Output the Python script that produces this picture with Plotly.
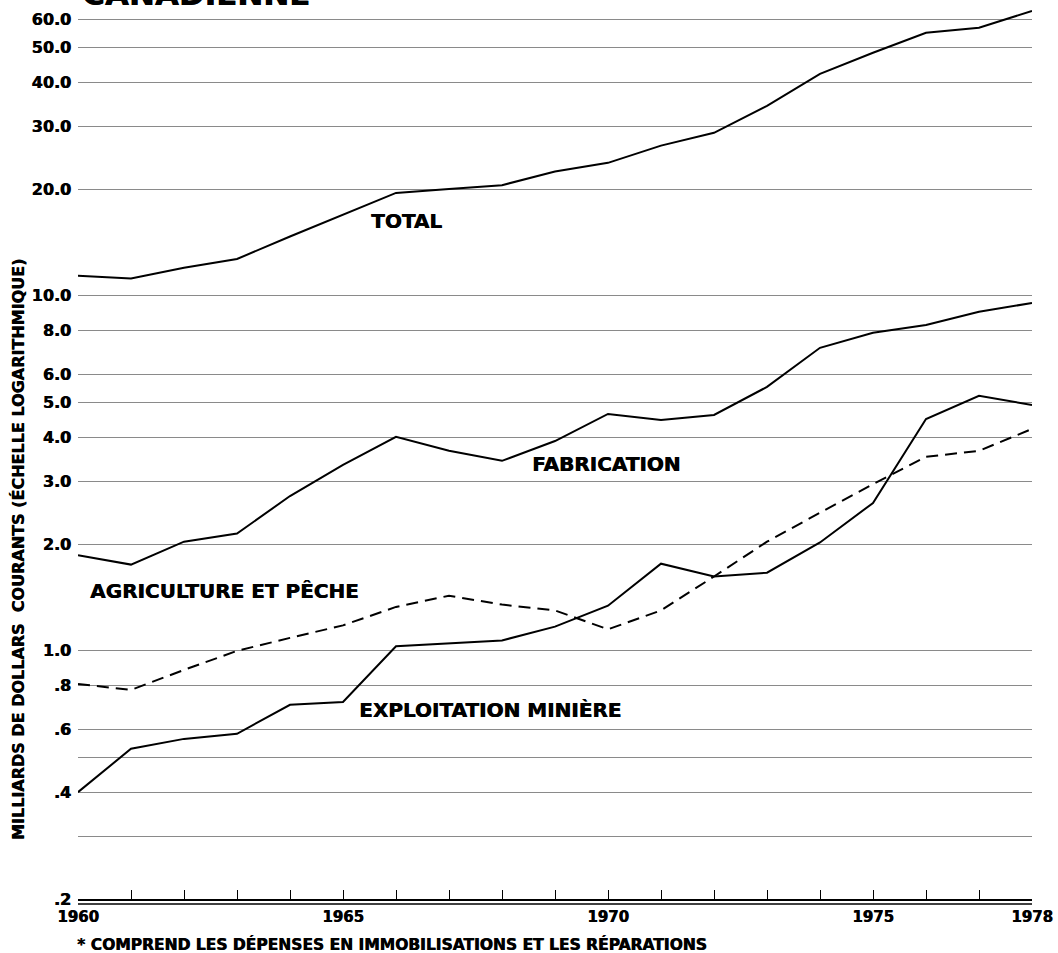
import plotly.graph_objects as go
import math

# ---- data ----
years = list(range(1960, 1979))
total = [11.4, 11.2, 12.0, 12.7, 14.7, 16.9, 19.5, 20.0, 20.5, 22.4,
         23.7, 26.5, 28.8, 34.3, 42.2, 48.4, 55.1, 56.9, 63.5]
fabrication = [1.86, 1.75, 2.03, 2.14, 2.73, 3.34, 4.01, 3.66, 3.43, 3.90,
               4.65, 4.47, 4.62, 5.54, 7.14, 7.87, 8.28, 9.02, 9.55]
agriculture = [0.807, 0.776, 0.884, 1.0, 1.088, 1.18, 1.33, 1.43, 1.35, 1.30,
               1.15, 1.30, 1.62, 2.03, 2.45, 2.95, 3.52, 3.66, 4.22]
mining = [0.40, 0.53, 0.565, 0.584, 0.705, 0.718, 1.03, 1.05, 1.07, 1.17,
          1.34, 1.76, 1.62, 1.66, 2.02, 2.61, 4.50, 5.23, 4.93]

y_tickvals = [60, 50, 40, 30, 20, 10, 8, 6, 5, 4, 3, 2, 1, 0.8, 0.6, 0.5, 0.4, 0.3, 0.2]
y_ticktext = ["60.0", "50.0", "40.0", "30.0", "20.0", "10.0", "8.0", "6.0", "5.0",
              "4.0", "3.0", "2.0", "1.0", ".8", ".6", "", ".4", "", ".2"]
x_tickvals = years
x_ticktext = [str(y) if y in (1960, 1965, 1970, 1975, 1978) else "" for y in years]

series_labels = [
    ("TOTAL", 1966.2, 16.3),
    ("FABRICATION", 1969.97, 3.37),
    ("AGRICULTURE ET PÊCHE", 1962.76, 1.47),
    ("EXPLOITATION MINIÈRE", 1967.77, 0.683),
]

title_text = "CANADIENNE"
y_title = "MILLIARDS DE DOLLARS  COURANTS (ÉCHELLE LOGARITHMIQUE)"
footnote = "* COMPREND LES DÉPENSES EN IMMOBILISATIONS ET LES RÉPARATIONS"

FONT = "DejaVu Sans"
SHADOW = "0.6px 0px 0px black"
W, H = 1058, 953
ML, MR, MT, MB = 78, 23, 5, 54
PH = H - MT - MB
PW = W - ML - MR
PX_PER_DECADE = 355.0
ymin = math.log10(0.2)
ymax = ymin + PH / PX_PER_DECADE


def px_to_paper_y(py):
    return (H - MB - py) / PH


def px_to_paper_x(px):
    return (px - ML) / PW


def bold(size):
    return dict(family=FONT, size=size, color="black", weight="bold", shadow=SHADOW)


fig = go.Figure()
line_style = dict(color="black", width=2)
fig.add_trace(go.Scatter(x=years, y=total, mode="lines", line=line_style, showlegend=False))
fig.add_trace(go.Scatter(x=years, y=fabrication, mode="lines", line=line_style, showlegend=False))
fig.add_trace(go.Scatter(x=years, y=agriculture, mode="lines",
                         line=dict(color="black", width=2, dash="12px,7px"), showlegend=False))
fig.add_trace(go.Scatter(x=years, y=mining, mode="lines", line=line_style, showlegend=False))

annotations = []
for text, xv, yv in series_labels:
    annotations.append(dict(x=xv, y=math.log10(yv), xref="x", yref="y", text=text,
                            showarrow=False, xanchor="center", yanchor="middle",
                            font=bold(20)))

annotations.append(dict(x=px_to_paper_x(18), y=px_to_paper_y(550), xref="paper", yref="paper",
                        text=y_title, textangle=-90, showarrow=False,
                        xanchor="center", yanchor="middle", font=bold(16)))
annotations.append(dict(x=px_to_paper_x(75), y=px_to_paper_y(944), xref="paper", yref="paper",
                        text=footnote, showarrow=False, xanchor="left", yanchor="middle",
                        font=bold(15.5)))
annotations.append(dict(x=px_to_paper_x(80), y=px_to_paper_y(14), xref="paper", yref="paper",
                        text=title_text, showarrow=False, xanchor="left", yanchor="bottom",
                        font=bold(31)))

fig.update_layout(
    width=W, height=H,
    margin=dict(l=ML, r=MR, t=MT, b=MB),
    paper_bgcolor="white", plot_bgcolor="white",
    annotations=annotations,
    shapes=[dict(type="line", xref="paper", yref="paper", x0=0, x1=1,
                 y0=px_to_paper_y(904), y1=px_to_paper_y(904),
                 line=dict(color="black", width=1.5))],
)

fig.update_xaxes(range=[1960, 1978], tickvals=x_tickvals, ticktext=x_ticktext,
                 ticks="inside", ticklen=9, tickwidth=1.2, tickcolor="black",
                 showline=True, linecolor="black", linewidth=1.5,
                 showgrid=False, zeroline=False, ticklabelstandoff=3,
                 tickfont=bold(15))
fig.update_yaxes(type="log", range=[ymin, ymax], tickvals=y_tickvals, ticktext=y_ticktext,
                 ticks="", showline=False, showgrid=True, gridcolor="#8a8a8a", gridwidth=1.2,
                 zeroline=False, ticklabelstandoff=6,
                 tickfont=bold(16))

fig.write_html("out.html", config={"displayModeBar": False},
               post_script="document.body.style.margin='0px';document.body.style.overflow='hidden';")
